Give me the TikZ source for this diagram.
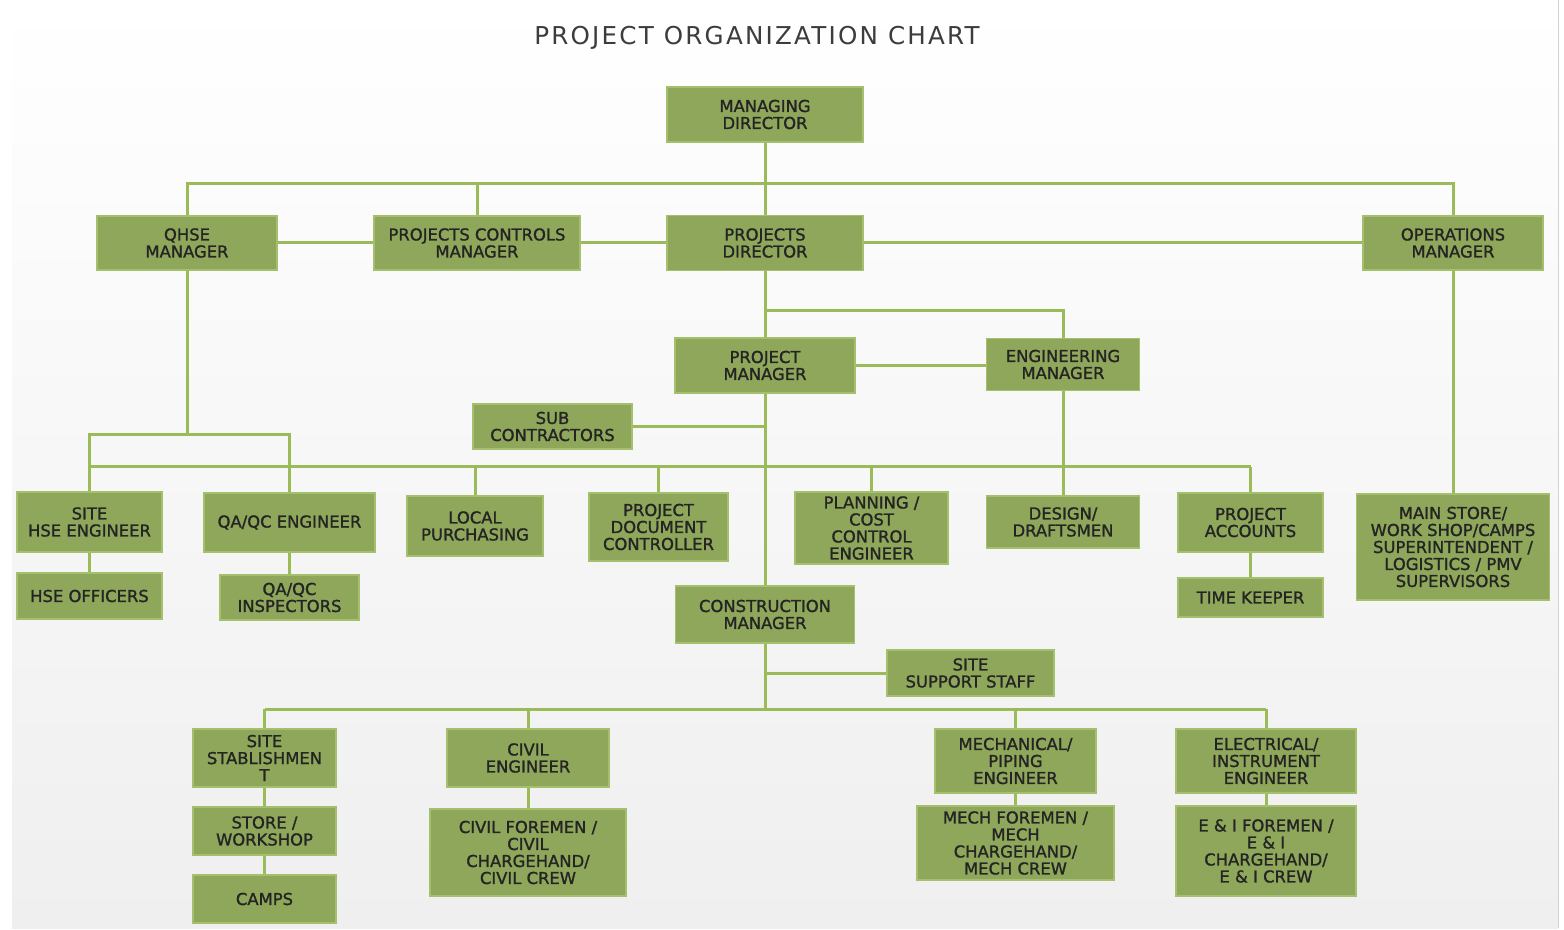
\documentclass[tikz,border=0pt]{standalone}
\usepackage{fontspec}
\setmainfont{DejaVu Sans}
\newfontfamily\boxfont{DejaVu Sans}[FakeBold=1.3]
\usetikzlibrary{positioning}
\definecolor{boxgreen}{RGB}{143,167,90}
\definecolor{edgegreen}{RGB}{165,192,108}
\definecolor{linegreen}{RGB}{155,187,89}
\definecolor{textgray}{RGB}{36,36,36}
\definecolor{titlegray}{RGB}{60,60,60}
\definecolor{bggray}{RGB}{239,239,239}

\begin{document}
\begin{tikzpicture}[x=0.5pt,y=-0.5pt,
  post/.style={draw=edgegreen, fill=boxgreen, line width=0.6pt, text=textgray,
    font=\boxfont\fontsize{8.2}{8.5}\selectfont, align=center, inner sep=0pt},
  wh/.style 2 args={minimum width=#1*0.5pt, minimum height=#2*0.5pt},
  link/.style={draw=linegreen, line width=1.5pt}]
\useasboundingbox (0,0) rectangle (1564,930);
%% Background
\fill[white] (0,0) rectangle (1564,930);
\shade[top color=white, bottom color=bggray] (12,0) rectangle (1558,928);
\draw[gray!35] (1558,0) -- (1558,928);

	\newcommand \busMD{184}
	\newcommand \busPD{311}
	\newcommand \forkQHSE{435}
	\newcommand \busStaff{467}
	\newcommand \busCM{709}
	\coordinate (mdbus) at (0,\busMD);
	\coordinate (pdbus) at (0,\busPD);
	\coordinate (qhsefork) at (0,\forkQHSE);
	\coordinate (staffbus) at (0,\busStaff);
	\coordinate (cmbus) at (0,\busCM);

\node[font=\fontsize{12.3}{12}\selectfont\addfontfeature{LetterSpace=9}, text=titlegray] (title) at (757,38) {PROJECT ORGANIZATION CHART};

%% Top levels
\node[post, wh={196}{55}] (md) at (765,114.5) {MANAGING\\DIRECTOR};
\node[post, wh={180}{54}] (qhse) at (187,243) {QHSE\\MANAGER};
\node[post, wh={206}{54}] (pcm) at (477,243) {PROJECTS CONTROLS\\MANAGER};
\node[post, wh={196}{55}] (pd) at (765,243) {PROJECTS\\DIRECTOR};
\node[post, wh={180}{54}] (ops) at (1453,243) {OPERATIONS\\MANAGER};
\node[post, wh={180}{55}] (pm) at (765,365.5) {PROJECT\\MANAGER};
\node[post, wh={153}{52}] (em) at (1063,364.5) {ENGINEERING\\MANAGER};
\node[post, wh={159}{45}] (sub) at (552.5,426.5) {SUB\\CONTRACTORS};

%% Staff row
\node[post, wh={145}{60}] (sitehse) at (89.5,522) {SITE\\HSE ENGINEER};
\node[post, wh={145}{46}] (hseoff) at (89.5,596) {HSE OFFICERS};
\node[post, wh={171}{59}] (qaqc) at (289.5,522.5) {QA/QC ENGINEER};
\node[post, wh={139}{45}] (qaqcinsp) at (289.5,597.5) {QA/QC\\INSPECTORS};
\node[post, wh={136}{60}] (purchasing) at (475,526) {LOCAL\\PURCHASING};
\node[post, wh={139}{68}] (pdc) at (658.5,527) {PROJECT\\DOCUMENT\\CONTROLLER};
\node[post, wh={153}{72}] (planning) at (871.5,528) {PLANNING /\\COST\\CONTROL\\ENGINEER};
\node[post, wh={153}{52}] (design) at (1063,522) {DESIGN/\\DRAFTSMEN};
\node[post, wh={145}{59}] (accounts) at (1250.5,522.5) {PROJECT\\ACCOUNTS};
\node[post, wh={145}{39}] (timekeeper) at (1250.5,597.5) {TIME KEEPER};
\node[post, wh={193}{106}] (mainstore) at (1453,547) {MAIN STORE/\\WORK SHOP/CAMPS\\SUPERINTENDENT /\\LOGISTICS / PMV\\SUPERVISORS};

%% Construction
\node[post, wh={179}{57}] (cm) at (765,614.5) {CONSTRUCTION\\MANAGER};
\node[post, wh={167}{46}] (support) at (970.5,673) {SITE\\SUPPORT STAFF};
\node[post, wh={143}{58}] (stab) at (264.5,758) {SITE\\STABLISHMEN\\T};
\node[post, wh={143}{48}] (storews) at (264.5,831) {STORE /\\WORKSHOP};
\node[post, wh={143}{48}] (camps) at (264.5,899) {CAMPS};
\node[post, wh={162}{58}] (civil) at (528,758) {CIVIL\\ENGINEER};
\node[post, wh={196}{87}] (civilfm) at (528,852.5) {CIVIL FOREMEN /\\CIVIL\\CHARGEHAND/\\CIVIL CREW};
\node[post, wh={161}{64}] (mech) at (1015.5,761) {MECHANICAL/\\PIPING\\ENGINEER};
\node[post, wh={197}{74}] (mechfm) at (1015.5,843) {MECH FOREMEN /\\MECH\\CHARGEHAND/\\MECH CREW};
\node[post, wh={180}{64}] (elec) at (1266,761) {ELECTRICAL/\\INSTRUMENT\\ENGINEER};
\node[post, wh={180}{90}] (eifm) at (1266,851) {E \& I FOREMEN /\\E \& I\\CHARGEHAND/\\E \& I CREW};

%% Connectors
\draw[link] (md.south) -- (pd.north);
\draw[link] (qhse.north) -- (qhse.north |- mdbus) -- (ops.north |- mdbus) -- (ops.north);
\draw[link] (pcm.north |- mdbus) -- (pcm.north);
\draw[link] (qhse.east) -- (pcm.west);
\draw[link] (pcm.east) -- (pd.west);
\draw[link] (pd.east) -- (ops.west);
\draw[link] (pd.south) -- (pm.north);
\draw[link] (pd.south |- pdbus) -| (em.north);
\draw[link] (pm.east) -- (pm.east -| em.west);
\draw[link] (pm.south) -- (cm.north);
\draw[link] (sub.east) -- (sub.east -| pm.south);

\draw[link] (qhse.south) -- (qhse.south |- qhsefork);
\draw[link] (sitehse.north) |- (qhsefork -| qaqc.north) -- (qaqc.north);
\draw[link] (sitehse.north |- staffbus) -- (accounts.north |- staffbus);
\foreach \a in {purchasing,pdc,planning,accounts}
{
\draw[link] (\a.north |- staffbus) -- (\a.north);
}
\draw[link] (em.south) -- (design.north);
\draw[link] (ops.south) -- (mainstore.north);
\draw[link] (sitehse.south) -- (hseoff.north);
\draw[link] (qaqc.south) -- (qaqcinsp.north);
\draw[link] (accounts.south) -- (timekeeper.north);

\draw[link] (cm.south) -- (cm.south |- cmbus);
\draw[link] (cm.south |- support.west) -- (support.west);
\draw[link] (stab.north |- cmbus) -- (elec.north |- cmbus);
\foreach \a in {stab,civil,mech,elec}
{
\draw[link] (\a.north |- cmbus) -- (\a.north);
}
\draw[link] (stab.south) -- (storews.north);
\draw[link] (storews.south) -- (camps.north);
\draw[link] (civil.south) -- (civilfm.north);
\draw[link] (mech.south) -- (mechfm.north);
\draw[link] (elec.south) -- (eifm.north);

\end{tikzpicture}
\end{document}
